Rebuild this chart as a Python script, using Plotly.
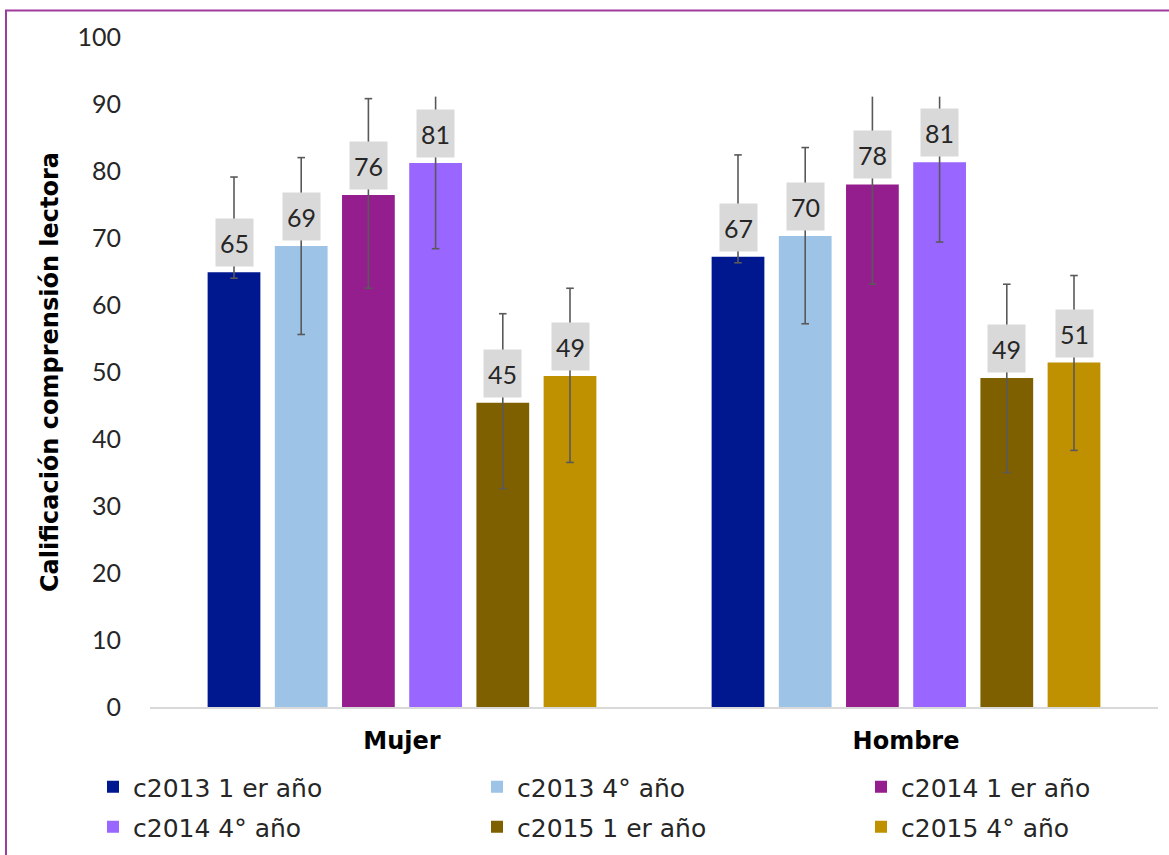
import plotly.graph_objects as go

categories = ["Mujer", "Hombre"]
series_names = ["c2013 1 er año", "c2013 4° año", "c2014 1 er año",
                "c2014 4° año", "c2015 1 er año", "c2015 4° año"]
c2013_1 = [64.9, 67.2]
c2013_4 = [68.8, 70.3]
c2014_1 = [76.4, 78.0]
c2014_4 = [81.2, 81.3]
c2015_1 = [45.4, 49.1]
c2015_4 = [49.4, 51.4]
err_plus_2013_1 = [14.2, 15.2]
err_plus_2013_4 = [13.2, 13.2]
err_plus_2014_1 = [14.4, 14.9]
err_plus_2014_4 = [12.8, 11.9]
err_plus_2015_1 = [13.3, 14.0]
err_plus_2015_4 = [13.1, 13.0]
err_minus_2013_1 = [0.9, 0.9]
err_minus_2013_4 = [13.2, 13.1]
err_minus_2014_1 = [13.9, 14.9]
err_minus_2014_4 = [12.8, 11.9]
err_minus_2015_1 = [12.8, 14.1]
err_minus_2015_4 = [12.9, 13.1]
y_ticks = [0, 10, 20, 30, 40, 50, 60, 70, 80, 90, 100]

values = [c2013_1, c2013_4, c2014_1, c2014_4, c2015_1, c2015_4]
err_plus = [err_plus_2013_1, err_plus_2013_4, err_plus_2014_1,
            err_plus_2014_4, err_plus_2015_1, err_plus_2015_4]
err_minus = [err_minus_2013_1, err_minus_2013_4, err_minus_2014_1,
             err_minus_2014_4, err_minus_2015_1, err_minus_2015_4]
colors = ["#00188F", "#9DC3E6", "#951E8E", "#9966FF", "#7F6000", "#BF9000"]

NUMFONT = "Lato"
TXTFONT = "DejaVu Sans"
TXT = "#262626"
BARGAP = 0.2
GROUPGAP = 0.215
CLIP = 91.1          # whiskers are cut at the plot's inner top like the source
CAP = 0.0075         # half width of whisker caps (x units)

N = len(series_names)
slot = (1 - BARGAP) / N
bar_w = slot * (1 - GROUPGAP)

L, R, T, B = 150, 11, 37, 148
W, H = 1169, 855
pw, ph = W - L - R, H - T - B

# legend grid (3 columns x 2 rows), in pixels
LEG_COLS, LEG_X0, LEG_DX = 3, 93, 384
LEG_Y0, LEG_DY = 787, 40

fig = go.Figure()
annotations = []
legends = {}
wx, wy = [], []
for k, name in enumerate(series_names):
    off = (k - (N - 1) / 2) * slot
    xs = [g + off for g in range(len(categories))]
    leg_id = "legend" if k == 0 else f"legend{k + 1}"
    fig.add_trace(go.Bar(x=xs, y=values[k], width=bar_w, name=name,
                         legend=leg_id,
                         marker=dict(color=colors[k], line=dict(width=0)),
                         hoverinfo="y"))
    col, row = k % LEG_COLS, k // LEG_COLS
    legends[leg_id] = dict(
        orientation="h", xanchor="left", yanchor="middle",
        x=(LEG_X0 + col * LEG_DX - L) / pw,
        y=-(LEG_Y0 + row * LEG_DY - (H - B)) / ph,
        font=dict(family=TXTFONT, size=25, color=TXT),
        bgcolor="rgba(0,0,0,0)", itemclick=False)
    for x, v, p, m in zip(xs, values[k], err_plus[k], err_minus[k]):
        hi = v + p
        lo = v - m
        top = min(hi, CLIP)
        wx += [x, x, None]
        wy += [lo, top, None]
        wx += [x - CAP, x + CAP, None]
        wy += [lo, lo, None]
        if hi <= CLIP:
            wx += [x - CAP, x + CAP, None]
            wy += [hi, hi, None]
        annotations.append(dict(
            x=x, y=v, xref="x", yref="y", text=f"{round(v)}",
            showarrow=False, yanchor="bottom", yshift=5,
            bgcolor="#D9D9D9", width=31, height=41, borderpad=3,
            font=dict(family=NUMFONT, size=25, color=TXT)))

fig.add_trace(go.Scatter(x=wx, y=wy, mode="lines", showlegend=False,
                         hoverinfo="skip", cliponaxis=False,
                         line=dict(color="#595959", width=1.6)))

fig.add_shape(type="rect", xref="paper", yref="paper", layer="above",
              x0=(6 - L) / pw, x1=(W + 10 - L) / pw,
              y0=-(H + 10 - (H - B)) / ph, y1=1 + (T - 10.5) / ph,
              line=dict(color="#9E3C9E", width=2), fillcolor="rgba(0,0,0,0)")

fig.update_layout(
    width=W, height=H, barmode="overlay",
    margin=dict(l=L, r=R, t=T, b=B, autoexpand=False),
    paper_bgcolor="white", plot_bgcolor="white",
    annotations=annotations,
    font=dict(family=TXTFONT, color=TXT),
    xaxis=dict(range=[-0.5, 1.5], tickvals=list(range(len(categories))),
               ticktext=categories, showgrid=False, zeroline=False,
               showline=True, linecolor="#D9D9D9", linewidth=2,
               ticks="", ticklabelstandoff=11,
               tickfont=dict(family=TXTFONT, size=24, weight="bold",
                             color="#000000")),
    yaxis=dict(range=[0, 100], tickvals=y_ticks, showgrid=False,
               zeroline=False, showline=False, ticks="",
               ticklabelstandoff=28,
               tickfont=dict(family=NUMFONT, size=25, color=TXT),
               title=dict(text="Calificación comprensión lectora", standoff=12,
                          font=dict(family=TXTFONT, size=24, weight="bold",
                                    color="#000000"))),
    showlegend=True,
    **legends,
)

fig.write_html("out.html", config={"displayModeBar": False},
               post_script="document.body.style.margin='0px';")
